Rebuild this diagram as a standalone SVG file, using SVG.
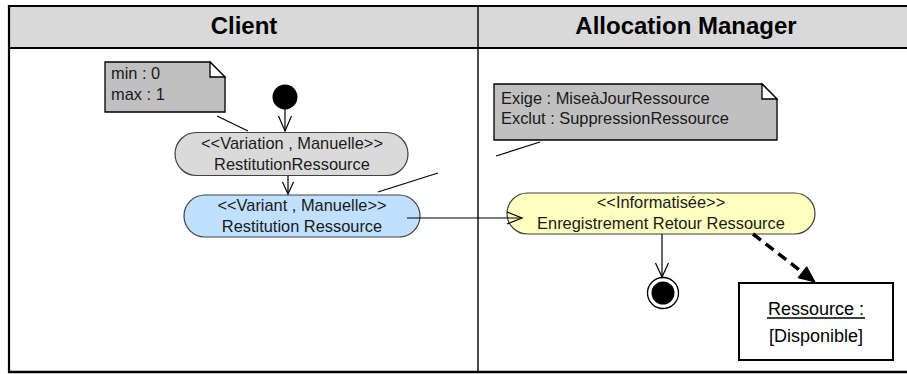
<svg xmlns="http://www.w3.org/2000/svg" width="907" height="374" viewBox="0 0 907 374">
<style>
.hdr{font-family:"Liberation Sans",Arial,sans-serif;font-weight:bold;font-size:24px;fill:#000;text-anchor:middle}
.t{font-family:"Liberation Sans",Arial,sans-serif;font-size:16.4px;fill:#1a1a1a}
.c{text-anchor:middle}
.act{stroke:#404040;stroke-width:1.2}
.note{fill:#c0c0c0;stroke:#000;stroke-width:1.3}
.fold{fill:#ffffff;stroke:#000;stroke-width:1.3}
.ln{stroke:#000;stroke-width:1.2;fill:none}
.obj{font-family:"Liberation Sans",Arial,sans-serif;font-size:18px;fill:#000;text-anchor:middle}
</style>
<rect width="907" height="374" fill="#fff"/>
<g id="swimlanes">
<rect x="9" y="6" width="905" height="42" fill="#d9d9d9"/>
<line x1="8" y1="6" x2="907" y2="6" stroke="#000" stroke-width="2.2"/>
<line x1="8" y1="48" x2="907" y2="48" stroke="#000" stroke-width="2.2"/>
<line x1="8" y1="372" x2="907" y2="372" stroke="#000" stroke-width="2.5"/>
<line x1="9" y1="5" x2="9" y2="373" stroke="#000" stroke-width="2.2"/>
<line x1="478" y1="6" x2="478" y2="372" stroke="#000" stroke-width="1.4"/>
<text class="hdr" x="244" y="34">Client</text>
<text class="hdr" x="686" y="34">Allocation Manager</text>
</g>
<g id="note-minmax">
<polygon class="note" points="105,62 210,62 225,77 225,112 105,112"/>
<polygon class="fold" points="210,62 210,77 225,77"/>
<text class="t" x="111" y="79">min : 0</text>
<text class="t" x="111" y="100">max : 1</text>
</g>
<g id="initial">
<circle cx="285" cy="97" r="12.5" fill="#000"/>
</g>
<g id="variation">
<rect class="act" x="175" y="132.5" width="233" height="43" rx="21.5" fill="#dadada"/>
<text class="t c" x="292" y="149">&lt;&lt;Variation , Manuelle&gt;&gt;</text>
<text class="t c" x="292" y="170">RestitutionRessource</text>
</g>
<g id="variant">
<rect class="act" x="184" y="195" width="236" height="42" rx="21" fill="#c0e0ff"/>
<text class="t c" x="302" y="211">&lt;&lt;Variant , Manuelle&gt;&gt;</text>
<text class="t c" x="302" y="232">Restitution Ressource</text>
</g>
<g id="note-exige">
<polygon class="note" points="494,84 762,84 777,99 777,140 494,140"/>
<polygon class="fold" points="762,84 762,99 777,99"/>
<text class="t" x="501" y="104">Exige : MiseàJourRessource</text>
<text class="t" x="501" y="124">Exclut : SuppressionRessource</text>
</g>
<g id="informatisee">
<rect class="act" x="507" y="193" width="308" height="41" rx="20.5" fill="#ffffc0"/>
<text class="t c" x="661" y="208">&lt;&lt;Informatisée&gt;&gt;</text>
<text class="t c" x="661" y="229">Enregistrement Retour Ressource</text>
</g>
<g id="final">
<circle cx="663" cy="293" r="15.5" fill="#fff" stroke="#000" stroke-width="1.3"/>
<circle cx="663" cy="293" r="11.5" fill="#000"/>
</g>
<g id="ressource">
<rect x="739" y="283" width="154" height="77" fill="#fff" stroke="#000" stroke-width="2"/>
<text class="obj" x="816" y="315">Ressource :</text>
<line x1="767" y1="318" x2="865" y2="318" stroke="#000" stroke-width="1.3"/>
<text class="obj" x="816" y="342">[Disponible]</text>
</g>
<g id="connectors">
<line class="ln" x1="217" y1="116" x2="248" y2="131"/>
<line class="ln" x1="378" y1="192" x2="438" y2="173"/>
<line class="ln" x1="496" y1="156" x2="540" y2="142"/>
<line class="ln" x1="285" y1="109" x2="285" y2="131"/>
<polyline class="ln" points="278.5,116 285,131 291.5,116"/>
<line class="ln" x1="288" y1="176" x2="288" y2="194"/>
<polyline class="ln" points="282.5,182 288,194 293.5,182"/>
<line class="ln" x1="407" y1="218" x2="522" y2="218"/>
<polyline class="ln" points="507,212 522,218 507,224"/>
<line class="ln" x1="662" y1="234" x2="662" y2="277"/>
<polyline class="ln" points="655.5,263 662,277 668.5,263"/>
<line x1="753" y1="234" x2="802" y2="272" stroke="#000" stroke-width="3.5" stroke-dasharray="10,6"/>
<polygon points="815,282 798,277.7 806.7,266.7" fill="#000" stroke="#000" stroke-width="1"/>
</g>
</svg>
